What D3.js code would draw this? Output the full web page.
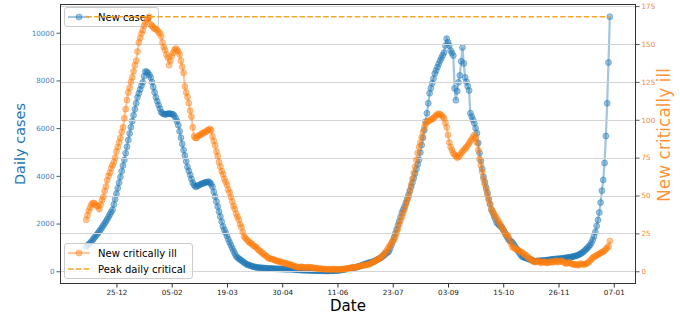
<!DOCTYPE html>
<html><head><meta charset="utf-8">
<script src="https://cdn.jsdelivr.net/npm/d3@7"></script>
<style>body{margin:0;background:#fff}svg{display:block}</style>
</head><body><svg id="c" width="680" height="323"></svg>
<script>
const startDate = "2020-12-02";
const cases = [
1040,1080,1130,1190,1250,1320,1390,1460,1530,1600,
1680,1750,1830,1920,2000,2090,2180,2280,2380,2480,
2580,2800,3020,3250,3480,3710,3950,4190,4430,4670,
4950,5220,5500,5770,6040,6290,6540,6790,7040,7290,
7460,7620,7780,7920,8180,8375,8360,8310,8230,8125,
7930,7720,7500,7290,7130,6970,6820,6670,6620,6590,
6580,6580,6600,6610,6600,6590,6580,6520,6420,6290,
6125,5870,5600,5340,5080,4850,4610,4375,4210,4040,
3870,3710,3620,3540,3560,3590,3620,3650,3670,3690,
3710,3730,3740,3750,3720,3650,3540,3330,3130,2920,
2710,2500,2290,2080,1875,1740,1610,1480,1340,1210,
1090,970,850,740,625,580,530,490,450,410,
370,330,290,270,250,230,210,195,180,170,
160,155,150,145,140,135,130,125,120,118,
115,112,110,107,105,102,100,98,96,94,
92,90,88,87,86,85,85,80,75,70,
65,60,55,50,48,46,44,42,40,38,
36,34,32,30,28,26,25,24,22,20,
18,17,16,15,15,16,18,20,22,25,
28,32,38,45,55,65,75,85,95,105,
115,125,135,145,155,165,180,200,220,240,
260,280,300,320,340,355,370,385,400,420,
450,480,510,540,570,610,650,700,750,790,
830,950,1100,1260,1420,1590,1760,1930,2100,2280,
2460,2590,2710,2870,3030,3200,3370,3540,3720,3910,
4100,4290,4480,4670,4980,5290,5600,5920,6270,6625,
7040,7460,7670,7880,8080,8290,8420,8560,8690,8830,
8940,9060,9170,9460,9750,9600,9460,9250,9150,9040,
7670,7170,7550,7920,8210,8800,9375,8710,8125,7940,
7760,7580,6625,6490,6350,6210,6000,5790,5380,4960,
4630,4290,3960,3740,3510,3290,3050,2820,2580,2450,
2310,2180,2040,1990,1940,1880,1830,1730,1630,1530,
1430,1330,1290,1250,1210,1120,1040,960,870,790,
710,625,600,580,560,540,520,500,480,460,
440,420,425,430,435,440,445,450,455,460,
465,470,480,490,500,505,510,515,520,525,
530,535,540,550,560,565,575,580,590,600,
615,630,645,660,685,710,740,780,820,870,
920,980,1040,1100,1200,1320,1460,1650,1900,2150,
2460,2880,3380,3830,4540,5670,7040,8750,10670];
const critical = [
34,37,40,42,44,45,45,44,43,43,
41,44,47,49,53,56,60,63,65,68,
70,72,75,79,82,85,88,92,95,101,
107,113,118,121,125,128,132,136,139,145,
151,154,157,159,162,164,166,167,168,163,
162,161,160,160,159,158,157,155,151,148,
146,143,141,136,139,142,144,146,147,146,
145,143,139,135,131,122,118,115,111,106,
102,95,89,88,88,89,90,90,91,91,
92,92,93,93,94,93,89,86,83,79,
76,72,69,66,64,61,59,57,54,52,
49,46,43,41,38,36,34,31,29,26,
23,22,21,20,19,18.5,18,17,16.5,16,
15,14,13.5,12.5,12,11,10.5,10,9,8.5,
8.5,8,8,7.5,7,7,6.5,6.5,6,6,
5.5,5.5,5,5,4.5,4.5,4,4,3.5,3,
3,2.6,2.5,2.8,3,2.6,2.4,2.5,2.7,2.6,
2.5,2.6,2.4,2.2,2,2,1.8,1.8,1.6,1.6,
1.5,1.5,1.4,1.3,1.3,1.3,1.2,1.3,1.4,1.3,
1.3,1.2,1.3,1.3,1.3,1.4,1.5,1.6,1.8,2,
2.1,2.3,2.4,2.5,2.6,2.8,3,3.1,3.3,3.5,
3.7,3.9,4.1,4.3,4.5,4.6,5,5.5,6,6.5,
7,7.5,8,8.5,9,10,11,12,13,14.5,
16,17,18.5,20,21,23,25.5,28,31,33.5,
36,38.5,41,44,46.5,49,53,57,61,65,
69,73.5,78,82,85,88.5,92,95,97,98.5,
99,99.5,100,100.5,101,102,103,103.5,104,103.5,
103,102,101,98,95,90,85,82,80,78,
77,76,75,75.5,76.5,78,79,80,81,82,
83,84.5,86,87,88.5,90,88,85,80,74,
70,65.5,61,57.5,54,50.5,47,44,41,39.5,
38,36.5,35,33.5,32,30.5,29,27.5,26,24.5,
23.5,23,20,18,16,15.5,15,14.5,14,13.5,
13,12.5,12,11,10.5,10,9,8.5,8,7,
6.5,6,6.5,7,6.5,6,5.5,6,6.5,6,
5.5,5.5,6,6.5,6,6,6.5,7,6.5,6,
6.5,7,6.6,6,5.5,5,5.5,6,5.5,5,
4.5,4.5,4.6,4.3,4,4.5,5,4.8,4.4,4.6,
5,5.5,6,7,8,9,9.5,10,10.5,11,
11.5,12,12.5,13,13.5,14.5,15.5,16.5,20];
const xTickDates = ["2020-12-25","2021-02-05","2021-03-19","2021-04-30","2021-06-11","2021-07-23","2021-09-03","2021-10-15","2021-11-26","2022-01-07"];
const leftTicks = [0,2000,4000,6000,8000,10000];
const rightTicks = [0,25,50,75,100,125,150,175];
const seriesNames = ["New cases","New critically ill","Peak daily critical"];

const L=60,R=636,T=4,B=284;
const BLUE="#1f77b4", ORANGE="#ff7f0e", PEAK="#f5a52a";
const FONT="DejaVu Sans";
const OP=0.42;
const svg=d3.select("#c").style("font-family",FONT);
const parse=d3.utcParse("%Y-%m-%d");
const start=parse(startDate);
const dates=cases.map((_,i)=>d3.utcDay.offset(start,i));
const d0=+dates[0], d1=+dates[dates.length-1], span=d1-d0;
const x=d3.scaleUtc().domain([new Date(d0-0.05*span),new Date(d1+0.05*span)]).range([L,R]);
function padDomain(arr){const lo=Math.min(0,d3.min(arr)),hi=d3.max(arr),p=0.05*(hi-lo);return [lo-p,hi+p];}
const yL=d3.scaleLinear().domain(padDomain(cases)).range([B,T]);
const yR=d3.scaleLinear().domain(padDomain(critical)).range([B,T]);
const peak=d3.max(critical);

// ax1: blue
const g1=svg.append("g");
g1.append("path").datum(cases).attr("fill","none").attr("stroke",BLUE).attr("stroke-opacity",OP).attr("stroke-width",2.2)
 .attr("d",d3.line().x((d,i)=>x(dates[i])).y(d=>yL(d)));
g1.selectAll("circle").data(cases).join("circle").attr("cx",(d,i)=>x(dates[i])).attr("cy",d=>yL(d)).attr("r",3)
 .attr("fill",BLUE).attr("fill-opacity",OP).attr("stroke",BLUE).attr("stroke-opacity",OP).attr("stroke-width",1);

// legend 1
function legendBox(g,x0,y0,w,h){g.append("rect").attr("x",x0).attr("y",y0).attr("width",w).attr("height",h).attr("rx",2.5)
 .attr("fill","#fff").attr("fill-opacity",0.8).attr("stroke","#cccccc").attr("stroke-width",1);}
const lg1=svg.append("g");
legendBox(lg1,64.5,7.5,94,19);
lg1.append("line").attr("x1",68).attr("x2",90).attr("y1",17).attr("y2",17).attr("stroke",BLUE).attr("stroke-opacity",OP).attr("stroke-width",2.2);
lg1.append("circle").attr("cx",79).attr("cy",17).attr("r",3).attr("fill",BLUE).attr("fill-opacity",OP).attr("stroke",BLUE).attr("stroke-opacity",OP);
lg1.append("text").attr("x",98).attr("y",17).attr("dy","0.35em").attr("font-size",10).attr("fill","#000").text(seriesNames[0]);

// ax2: grid, orange, peak line
const g2=svg.append("g");
g2.selectAll("line.grid").data(rightTicks).join("line").attr("class","grid")
 .attr("x1",L).attr("x2",R).attr("y1",d=>Math.round(yR(d))+0.5).attr("y2",d=>Math.round(yR(d))+0.5)
 .attr("stroke","#d4d4d4").attr("stroke-width",1);
g2.append("path").datum(critical).attr("fill","none").attr("stroke",ORANGE).attr("stroke-opacity",OP).attr("stroke-width",2.2)
 .attr("d",d3.line().x((d,i)=>x(dates[i])).y(d=>yR(d)));
g2.selectAll("circle").data(critical).join("circle").attr("cx",(d,i)=>x(dates[i])).attr("cy",d=>yR(d)).attr("r",3)
 .attr("fill",ORANGE).attr("fill-opacity",OP).attr("stroke",ORANGE).attr("stroke-opacity",OP).attr("stroke-width",1);
g2.append("line").attr("x1",x(dates[0])).attr("x2",x(dates[dates.length-1])).attr("y1",yR(peak)).attr("y2",yR(peak))
 .attr("stroke",PEAK).attr("stroke-width",1.5).attr("stroke-dasharray","5.5,2.4");

// legend 2
const lg2=svg.append("g");
legendBox(lg2,64.5,243.5,128,35);
lg2.append("line").attr("x1",68).attr("x2",90).attr("y1",253).attr("y2",253).attr("stroke",ORANGE).attr("stroke-opacity",OP).attr("stroke-width",2.2);
lg2.append("circle").attr("cx",79).attr("cy",253).attr("r",3).attr("fill",ORANGE).attr("fill-opacity",OP).attr("stroke",ORANGE).attr("stroke-opacity",OP);
lg2.append("text").attr("x",98).attr("y",253).attr("dy","0.35em").attr("font-size",10).attr("fill","#000").text(seriesNames[1]);
lg2.append("line").attr("x1",68).attr("x2",90).attr("y1",269).attr("y2",269).attr("stroke",PEAK).attr("stroke-width",1.5).attr("stroke-dasharray","5.5,2.4");
lg2.append("text").attr("x",98).attr("y",269).attr("dy","0.35em").attr("font-size",10).attr("fill","#000").text(seriesNames[2]);

// frame
svg.append("rect").attr("x",L+0.5).attr("y",T+0.5).attr("width",R-L-1).attr("height",B-T-1).attr("fill","none").attr("stroke","#333").attr("stroke-width",1);

// axes
const ax1=svg.append("g").attr("transform",`translate(${L},0)`).call(d3.axisLeft(yL).tickValues(leftTicks).tickFormat(d3.format("d")).tickSize(3.5).tickPadding(2));
ax1.select(".domain").remove();
ax1.selectAll("line").attr("stroke","#555");
ax1.selectAll("text").attr("fill","#4a7fb8").attr("font-size",7.2).attr("font-family",FONT);
const ax2=svg.append("g").attr("transform",`translate(${R},0)`).call(d3.axisRight(yR).tickValues(rightTicks).tickFormat(d3.format("d")).tickSize(3.5).tickPadding(2));
ax2.select(".domain").remove();
ax2.selectAll("line").attr("stroke","#555");
ax2.selectAll("text").attr("fill","#f0883a").attr("font-size",7.2).attr("font-family",FONT);
const ax3=svg.append("g").attr("transform",`translate(0,${B})`).call(d3.axisBottom(x).tickValues(xTickDates.map(parse)).tickFormat(d3.utcFormat("%d-%m")).tickSize(3.5).tickPadding(2));
ax3.select(".domain").remove();
ax3.selectAll("line").attr("stroke","#333");
ax3.selectAll("text").attr("fill","#222").attr("font-size",7.2).attr("font-family",FONT);

// labels
svg.append("text").attr("x",(L+R)/2).attr("y",306).attr("dy","0.35em").attr("text-anchor","middle").attr("font-size",15).attr("fill","#000").text("Date");
svg.append("text").attr("transform","translate(20,144) rotate(-90)").attr("dy","0.35em").attr("text-anchor","middle").attr("font-size",14.5).attr("fill",BLUE).text("Daily cases");
svg.append("text").attr("transform","translate(664,135) rotate(-90)").attr("dy","0.35em").attr("text-anchor","middle").attr("font-size",17).attr("fill",ORANGE).attr("fill-opacity",0.85).text("New critically ill");
</script></body></html>
